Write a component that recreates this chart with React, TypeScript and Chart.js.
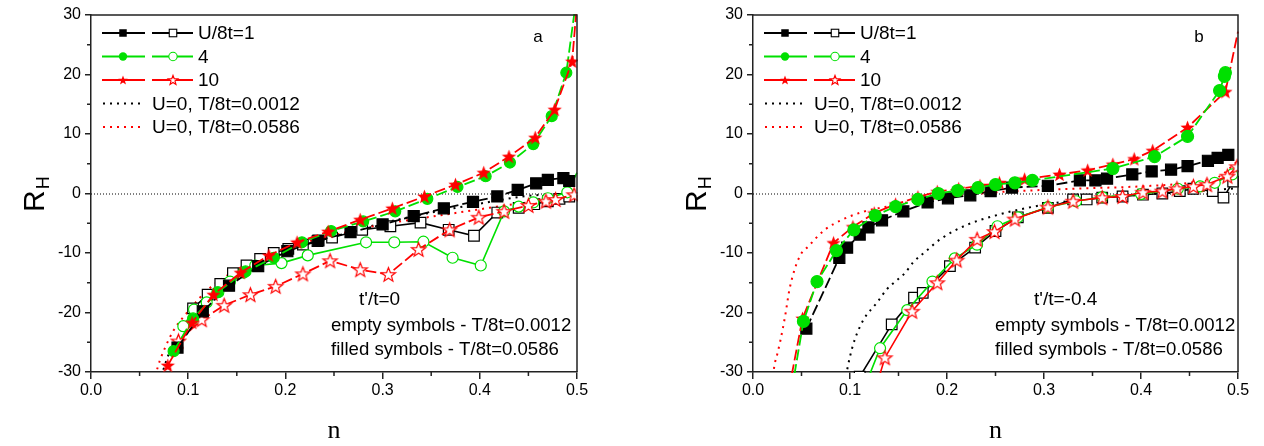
import React, { useEffect, useRef } from 'react';
import { Chart, registerables } from 'chart.js';
Chart.register(...registerables);

// ---------------- Panel a (t'/t = 0) ----------------
const aU1FilledN = [0.089, 0.115, 0.142, 0.172, 0.202, 0.234, 0.267, 0.3, 0.332, 0.363, 0.393, 0.418, 0.439, 0.458, 0.47, 0.486, 0.492];
const aU1FilledR = [-25.9, -19.8, -15.5, -12.2, -9.7, -7.9, -6.5, -5.2, -3.8, -2.5, -1.4, -0.5, 0.6, 1.7, 2.3, 2.6, 2.1];
const aU4FilledN = [0.085, 0.105, 0.13, 0.159, 0.188, 0.217, 0.247, 0.28, 0.313, 0.346, 0.377, 0.406, 0.431, 0.455, 0.474, 0.489, 0.4995];
const aU4FilledR = [-26.5, -21.0, -16.6, -13.1, -10.8, -8.2, -6.3, -4.7, -3.0, -0.9, 1.1, 2.9, 5.2, 8.3, 13.0, 20.3, 33];
const aU10FilledN = [0.079, 0.104, 0.126, 0.154, 0.183, 0.212, 0.244, 0.277, 0.31, 0.343, 0.375, 0.404, 0.43, 0.457, 0.477, 0.495, 0.5];
const aU10FilledR = [-28.9, -21.7, -17.0, -13.3, -10.4, -8.2, -6.4, -4.4, -2.5, -0.5, 1.5, 3.5, 6.2, 9.4, 14.1, 22.2, 32];
const aU1EmptyN = [0.105, 0.12, 0.133, 0.146, 0.16, 0.174, 0.188, 0.203, 0.218, 0.233, 0.248, 0.279, 0.308, 0.339, 0.368, 0.394, 0.418, 0.44, 0.456, 0.47, 0.482, 0.492];
const aU1EmptyR = [-19.3, -17.0, -15.2, -13.4, -12.1, -11.0, -10.0, -9.3, -8.6, -8.0, -7.4, -6.1, -5.5, -4.9, -6.1, -7.1, -3.2, -2.4, -1.8, -1.3, -0.9, -0.5];
const aU4EmptyN = [0.095, 0.106, 0.119, 0.131, 0.143, 0.157, 0.169, 0.196, 0.223, 0.283, 0.312, 0.342, 0.372, 0.401, 0.425, 0.44, 0.455, 0.47, 0.49, 0.5];
const aU4EmptyR = [-22.3, -19.5, -18.3, -16.6, -14.8, -13.3, -12.1, -11.7, -10.4, -8.2, -8.2, -8.1, -10.8, -12.1, -3.0, -2.2, -1.5, -0.8, 0.2, 3.5];
const aU10EmptyN = [0.09, 0.114, 0.137, 0.164, 0.19, 0.218, 0.246, 0.277, 0.306, 0.337, 0.369, 0.399, 0.425, 0.45, 0.468, 0.478, 0.497];
const aU10EmptyR = [-24.8, -21.2, -18.8, -17.0, -15.6, -13.5, -11.3, -12.8, -13.6, -9.4, -6.1, -4.0, -3.0, -2.0, -1.3, -1.0, -0.2];
const aU0T0012N = [0.068, 0.08, 0.09, 0.1, 0.12, 0.15, 0.2, 0.25, 0.3, 0.35, 0.4, 0.45, 0.5];
const aU0T0012R = [-33, -27, -24, -21.5, -17.5, -13.8, -9.8, -7.2, -5.0, -3.2, -1.7, -0.4, 0];
const aU0T0586N = [0.063, 0.069, 0.076, 0.085, 0.1, 0.12, 0.15, 0.18, 0.21, 0.25, 0.3, 0.35, 0.39, 0.41, 0.435, 0.46, 0.5];
const aU0T0586R = [-33, -29, -26, -23, -19.8, -16.2, -12.8, -10.4, -8.7, -7.0, -5.2, -3.9, -2.9, -2.4, -1.8, -1.3, 0];

// ---------------- Panel b (t'/t = -0.4) ----------------
const bU1FilledN = [0.055, 0.089, 0.097, 0.11, 0.119, 0.133, 0.155, 0.18, 0.201, 0.224, 0.245, 0.267, 0.304, 0.337, 0.353, 0.365, 0.391, 0.411, 0.431, 0.448, 0.469, 0.479, 0.49];
const bU1FilledR = [-22.7, -10.8, -9.1, -6.9, -5.7, -4.5, -3.0, -1.5, -0.8, -0.3, 0.4, 1.0, 1.3, 2.2, 2.2, 2.5, 3.2, 3.7, 4.0, 4.6, 5.5, 6.0, 6.5];
const bU4FilledN = [0.04, 0.052, 0.066, 0.086, 0.104, 0.126, 0.147, 0.17, 0.191, 0.211, 0.232, 0.25, 0.27, 0.288, 0.371, 0.414, 0.448, 0.481, 0.486, 0.487];
const bU4FilledR = [-33, -21.5, -14.8, -9.6, -6.1, -3.7, -2.2, -1.0, 0.0, 0.5, 1.0, 1.5, 1.8, 2.2, 4.2, 6.2, 9.6, 17.3, 19.7, 20.3];
const bU10FilledN = [0.037, 0.051, 0.083, 0.103, 0.125, 0.147, 0.17, 0.19, 0.212, 0.234, 0.254, 0.28, 0.316, 0.345, 0.371, 0.393, 0.412, 0.448, 0.487, 0.5];
const bU10FilledR = [-33, -21.0, -8.3, -5.6, -3.3, -1.8, -0.6, 0.3, 0.8, 1.3, 1.8, 2.4, 3.2, 3.9, 4.9, 5.8, 7.2, 11.1, 17.1, 27.2];
const bU1EmptyN = [0.11, 0.143, 0.166, 0.175, 0.203, 0.229, 0.25, 0.273, 0.304, 0.33, 0.344, 0.36, 0.381, 0.402, 0.422, 0.44, 0.454, 0.474, 0.485, 0.495];
const bU1EmptyR = [-30.8, -22.0, -17.5, -16.7, -12.2, -9.1, -6.3, -4.0, -2.4, -1.0, -1.0, -0.7, -0.5, -0.2, 0.0, 0.4, 0.8, 0.4, -0.7, 2.0];
const bU4EmptyN = [0.114, 0.131, 0.159, 0.185, 0.208, 0.231, 0.252, 0.273, 0.304, 0.333, 0.36, 0.4, 0.438, 0.461, 0.476, 0.494];
const bU4EmptyR = [-33, -26.0, -19.6, -14.8, -10.9, -8.6, -5.5, -4.0, -2.3, -1.3, -0.6, -0.1, 0.8, 1.2, 1.8, 3.2];
const bU10EmptyN = [0.126, 0.136, 0.164, 0.19, 0.21, 0.231, 0.249, 0.27, 0.304, 0.33, 0.36, 0.381, 0.402, 0.422, 0.437, 0.454, 0.468, 0.489, 0.499];
const bU10EmptyR = [-33, -27.6, -19.8, -15.0, -11.2, -7.7, -6.4, -4.3, -2.3, -1.3, -0.7, -0.5, 0.2, 0.4, 0.8, 1.2, 1.5, 2.9, 4.5];
const bU0T0012N = [0.093, 0.1, 0.105, 0.114, 0.128, 0.138, 0.157, 0.165, 0.179, 0.193, 0.22, 0.25, 0.28, 0.32, 0.36, 0.4, 0.45, 0.5];
const bU0T0012R = [-33, -27.4, -24.5, -21.2, -18.3, -16.1, -13.3, -11.6, -9.6, -7.7, -5.3, -3.7, -2.5, -1.4, -0.7, -0.2, 0.3, 0.9];
const bU0T0586N = [0.019, 0.022, 0.025, 0.028, 0.033, 0.038, 0.048, 0.057, 0.074, 0.092, 0.115, 0.138, 0.159, 0.2, 0.25, 0.3, 0.35, 0.4, 0.45, 0.48, 0.5];
const bU0T0586R = [-33, -29, -27, -24.9, -20.7, -15.8, -10.6, -8.9, -6.1, -4.4, -3.0, -2.2, -1.5, -0.6, 0.2, 0.6, 0.9, 1.2, 1.8, 2.8, 5.5];

// ---------------- Axes & text ----------------
const xMin = 0, xMax = 0.5, xStep = 0.1, xMinorStep = 0.05;
const yMin = -30, yMax = 30, yStep = 10, yMinorStep = 5;
const xTitle = 'n';
const yTitleMain = 'R';
const yTitleSub = 'H';
const legendLabels = ['U/8t=1', '4', '10', 'U=0, T/8t=0.0012', 'U=0, T/8t=0.0586'];
const panelLetters = ['a', 'b'];
const panelParams = ["t'/t=0", "t'/t=-0.4"];
const noteEmpty = 'empty symbols - T/8t=0.0012';
const noteFilled = 'filled symbols - T/8t=0.0586';

const BLACK = '#000000';
const GREEN = '#00e000';
const RED = '#ff0000';
const SANS = '"Liberation Sans", Arial, sans-serif';
const SERIF = '"Liberation Serif", "Times New Roman", serif';
const DASH = [11, 4];
const DOT = [2, 5];

type Marker = 'rect' | 'circle' | 'star' | 'none';
interface Spec { n: number[]; r: number[]; color: string; dash: number[]; marker: Marker; filled: boolean; size: number; width: number; smooth?: boolean; }

function makeStar(outer: number, filled: boolean): HTMLCanvasElement {
  const s = Math.ceil(outer * 2 + 4);
  const c = document.createElement('canvas');
  c.width = s; c.height = s;
  const g = c.getContext('2d')!;
  g.translate(s / 2, s / 2 + outer * 0.08);
  g.beginPath();
  for (let i = 0; i < 10; i++) {
    const rad = i % 2 === 0 ? outer : outer * 0.42;
    const ang = -Math.PI / 2 + (i * Math.PI) / 5;
    const px = rad * Math.cos(ang), py = rad * Math.sin(ang);
    if (i === 0) g.moveTo(px, py); else g.lineTo(px, py);
  }
  g.closePath();
  if (filled) { g.fillStyle = RED; g.fill(); }
  else { g.fillStyle = '#fff'; g.fill(); g.lineWidth = 1.2; g.strokeStyle = RED; g.stroke(); }
  return c;
}

function buildDatasets(specs: Spec[], stars: { f: HTMLCanvasElement; e: HTMLCanvasElement }) {
  return specs.map((s) => {
    const data = s.n.map((x, i) => ({ x, y: s.r[i] }));
    const style: any = s.marker === 'star' ? (s.filled ? stars.f : stars.e) : s.marker === 'none' ? 'circle' : s.marker;
    return {
      data,
      borderColor: s.color,
      backgroundColor: s.color,
      borderWidth: s.width,
      borderDash: s.dash,
      tension: 0,
      cubicInterpolationMode: s.smooth ? 'monotone' : 'default',
      pointStyle: style,
      pointRadius: (c: any) => {
        if (s.marker === 'none') return 0;
        const p = c.raw;
        if (!p) return s.size;
        return p.x >= 0.4995 || Math.abs(p.y) > 31 ? 0 : s.size;
      },
      pointBackgroundColor: s.filled ? s.color : '#ffffff',
      pointBorderColor: s.color,
      pointBorderWidth: 1.2,
      clip: 1,
    };
  });
}

function specsA(): Spec[] {
  return [
    { n: aU10FilledN, r: aU10FilledR, color: RED, dash: DASH, marker: 'star', filled: true, size: 7, width: 1.8 },
    { n: aU4FilledN, r: aU4FilledR, color: GREEN, dash: DASH, marker: 'circle', filled: true, size: 5.5, width: 1.8 },
    { n: aU1FilledN, r: aU1FilledR, color: BLACK, dash: DASH, marker: 'rect', filled: true, size: 7.8, width: 1.8 },
    { n: aU10EmptyN, r: aU10EmptyR, color: RED, dash: DASH, marker: 'star', filled: false, size: 7, width: 1.8 },
    { n: aU4EmptyN, r: aU4EmptyR, color: GREEN, dash: [], marker: 'circle', filled: false, size: 5.5, width: 1.6 },
    { n: aU1EmptyN, r: aU1EmptyR, color: BLACK, dash: [], marker: 'rect', filled: false, size: 7.5, width: 1.6 },
    { n: aU0T0586N, r: aU0T0586R, color: RED, dash: DOT, marker: 'none', filled: false, size: 0, width: 2, smooth: true },
    { n: aU0T0012N, r: aU0T0012R, color: BLACK, dash: DOT, marker: 'none', filled: false, size: 0, width: 2, smooth: true },
  ];
}

function specsB(): Spec[] {
  return [
    { n: bU4FilledN, r: bU4FilledR, color: GREEN, dash: DASH, marker: 'circle', filled: true, size: 6, width: 1.8 },
    { n: bU10FilledN, r: bU10FilledR, color: RED, dash: DASH, marker: 'star', filled: true, size: 7, width: 1.8 },
    { n: bU1FilledN, r: bU1FilledR, color: BLACK, dash: DASH, marker: 'rect', filled: true, size: 7.8, width: 1.8 },
    { n: bU10EmptyN, r: bU10EmptyR, color: RED, dash: [], marker: 'star', filled: false, size: 7, width: 1.6 },
    { n: bU4EmptyN, r: bU4EmptyR, color: GREEN, dash: [], marker: 'circle', filled: false, size: 5.5, width: 1.6 },
    { n: bU1EmptyN, r: bU1EmptyR, color: BLACK, dash: [], marker: 'rect', filled: false, size: 7.5, width: 1.6 },
    { n: bU0T0586N, r: bU0T0586R, color: RED, dash: DOT, marker: 'none', filled: false, size: 0, width: 2, smooth: true },
    { n: bU0T0012N, r: bU0T0012R, color: BLACK, dash: DOT, marker: 'none', filled: false, size: 0, width: 2, smooth: true },
  ];
}

function drawLegendMarker(ctx: CanvasRenderingContext2D, kind: Marker, filled: boolean, color: string, x: number, y: number, stars: any) {
  ctx.save();
  ctx.setLineDash([]);
  ctx.lineWidth = 1.1;
  if (kind === 'rect') {
    const s = 7.5;
    ctx.fillStyle = filled ? color : '#fff';
    ctx.fillRect(x - s / 2, y - s / 2, s, s);
    if (!filled) { ctx.strokeStyle = color; ctx.strokeRect(x - s / 2, y - s / 2, s, s); }
  } else if (kind === 'circle') {
    ctx.beginPath();
    ctx.arc(x, y, 4.2, 0, Math.PI * 2);
    ctx.fillStyle = filled ? color : '#fff';
    ctx.fill();
    if (!filled) { ctx.strokeStyle = color; ctx.stroke(); }
  } else if (kind === 'star') {
    const img = filled ? stars.lf : stars.le;
    ctx.drawImage(img, x - img.width / 2, y - img.height / 2);
  }
  ctx.restore();
}

function makeOverlay(idx: number, stars: any) {
  return {
    id: 'overlay' + idx,
    beforeDatasetsDraw(chart: any) {
      const { ctx, chartArea: a, scales } = chart;
      const y0 = scales.y.getPixelForValue(0);
      ctx.save();
      ctx.strokeStyle = '#000';
      ctx.lineWidth = 1;
      ctx.setLineDash([1, 2]);
      ctx.beginPath();
      ctx.moveTo(a.left, y0 + 0.5);
      ctx.lineTo(a.right, y0 + 0.5);
      ctx.stroke();
      ctx.restore();
    },
    afterDraw(chart: any) {
      const { ctx, chartArea: a, scales } = chart;
      ctx.save();
      ctx.setLineDash([]);
      // frame top / right
      ctx.strokeStyle = '#222';
      ctx.lineWidth = 1.5;
      ctx.beginPath();
      ctx.moveTo(a.left, a.top);
      ctx.lineTo(a.right, a.top);
      ctx.lineTo(a.right, a.bottom);
      ctx.stroke();
      // minor ticks
      ctx.lineWidth = 1.5;
      ctx.beginPath();
      for (let v = xMin + xMinorStep; v < xMax; v += xStep) {
        const px = scales.x.getPixelForValue(v);
        ctx.moveTo(px, a.bottom);
        ctx.lineTo(px, a.bottom + 4);
      }
      for (let v = yMin + yMinorStep; v < yMax; v += yStep) {
        const py = scales.y.getPixelForValue(v);
        ctx.moveTo(a.left, py);
        ctx.lineTo(a.left - 4, py);
      }
      ctx.stroke();

      // legend
      const kinds: Marker[] = ['rect', 'circle', 'star'];
      const colors = [BLACK, GREEN, RED];
      const x0 = a.left + 11;
      ctx.font = '19px ' + SANS;
      ctx.textBaseline = 'middle';
      ctx.textAlign = 'left';
      for (let i = 0; i < 5; i++) {
        const y = a.top + 18 + i * 23.5;
        if (i < 3) {
          const c = colors[i];
          ctx.strokeStyle = c;
          ctx.lineWidth = 1.8;
          ctx.setLineDash([]);
          ctx.beginPath();
          ctx.moveTo(x0, y); ctx.lineTo(x0 + 43, y);
          ctx.moveTo(x0 + 50, y); ctx.lineTo(x0 + 91, y);
          ctx.stroke();
          drawLegendMarker(ctx, kinds[i], true, c, x0 + 21, y, stars);
          drawLegendMarker(ctx, kinds[i], false, c, x0 + 71, y, stars);
          ctx.fillStyle = '#000';
          ctx.fillText(legendLabels[i], x0 + 96, y + 1);
        } else {
          const c = i === 3 ? BLACK : RED;
          ctx.strokeStyle = c;
          ctx.lineWidth = 2;
          ctx.setLineDash(DOT);
          ctx.beginPath();
          ctx.moveTo(x0 + 1, y); ctx.lineTo(x0 + 43, y);
          ctx.stroke();
          ctx.setLineDash([]);
          ctx.fillStyle = '#000';
          ctx.fillText(legendLabels[i], x0 + 50, y + 1);
        }
      }

      // panel letter
      ctx.fillStyle = '#000';
      ctx.font = '17px ' + SANS;
      ctx.textAlign = 'center';
      ctx.fillText(panelLetters[idx], a.right - 39, a.top + 22);

      // notes
      ctx.textAlign = 'left';
      ctx.font = '19px ' + SANS;
      ctx.fillText(panelParams[idx], a.left + (idx === 0 ? 268 : 281), a.top + 285);
      ctx.font = '18.6px ' + SANS;
      ctx.fillText(noteEmpty, a.left + (idx === 0 ? 240 : 242), a.top + 311);
      ctx.fillText(noteFilled, a.left + (idx === 0 ? 240 : 242), a.top + 335);

      // x title
      ctx.font = '26px ' + SERIF;
      ctx.textAlign = 'center';
      ctx.fillText(xTitle, (a.left + a.right) / 2, a.bottom + 59);

      // y title with subscript (rotated)
      ctx.translate(a.left - 47, a.top + 197);
      ctx.rotate(-Math.PI / 2);
      ctx.textAlign = 'left';
      ctx.textBaseline = 'alphabetic';
      ctx.font = '30px ' + SANS;
      ctx.fillText(yTitleMain, 0, 0);
      const w = ctx.measureText(yTitleMain).width;
      ctx.font = '18px ' + SANS;
      ctx.fillText(yTitleSub, w + 1, 5);
      ctx.restore();
    },
  };
}

function makeConfig(idx: number, specs: Spec[], stars: any, yAxisWidth: number, padRight: number): any {
  return {
    type: 'line',
    data: { datasets: buildDatasets(specs, stars) },
    plugins: [makeOverlay(idx, stars)],
    options: {
      animation: false,
      responsive: false,
      events: [],
      layout: { padding: { left: 0, right: padRight, top: 15, bottom: 0 } },
      plugins: { legend: { display: false }, tooltip: { enabled: false } },
      scales: {
        x: {
          type: 'linear', min: xMin, max: xMax,
          afterFit: (s: any) => { s.height = 74; },
          ticks: { stepSize: xStep, padding: 2, color: '#000', font: { family: SANS, size: 16 }, callback: (v: number) => v.toFixed(1), maxRotation: 0 },
          grid: { drawOnChartArea: false, drawTicks: true, tickLength: 7, color: '#222', lineWidth: 1.5 },
          border: { display: true, color: '#222', width: 1.5 },
        },
        y: {
          type: 'linear', min: yMin, max: yMax,
          afterFit: (s: any) => { s.width = yAxisWidth; },
          ticks: { stepSize: yStep, padding: 4, color: '#000', font: { family: SANS, size: 16 }, callback: (v: number) => String(Math.round(v)) },
          grid: { drawOnChartArea: false, drawTicks: true, tickLength: 6, color: '#222', lineWidth: 1.5 },
          border: { display: true, color: '#222', width: 1.5 },
        },
      },
    },
  };
}

export default function App() {
  const refA = useRef<HTMLCanvasElement>(null);
  const refB = useRef<HTMLCanvasElement>(null);
  useEffect(() => {
    const stars = { f: makeStar(7.5, true), e: makeStar(7.5, false), lf: makeStar(5, true), le: makeStar(5, false) };
    const ca = new Chart(refA.current!, makeConfig(0, specsA(), stars, 91, 55));
    const cb = new Chart(refB.current!, makeConfig(1, specsB(), stars, 121, 26));
    return () => { ca.destroy(); cb.destroy(); };
  }, []);
  return (
    <div style={{ position: 'fixed', left: 0, top: 0, width: 1264, height: 446, background: '#fff' }}>
      <canvas ref={refA} width={632} height={446} style={{ position: 'absolute', left: 0, top: 0, width: 632, height: 446 }} />
      <canvas ref={refB} width={632} height={446} style={{ position: 'absolute', left: 632, top: 0, width: 632, height: 446 }} />
    </div>
  );
}
